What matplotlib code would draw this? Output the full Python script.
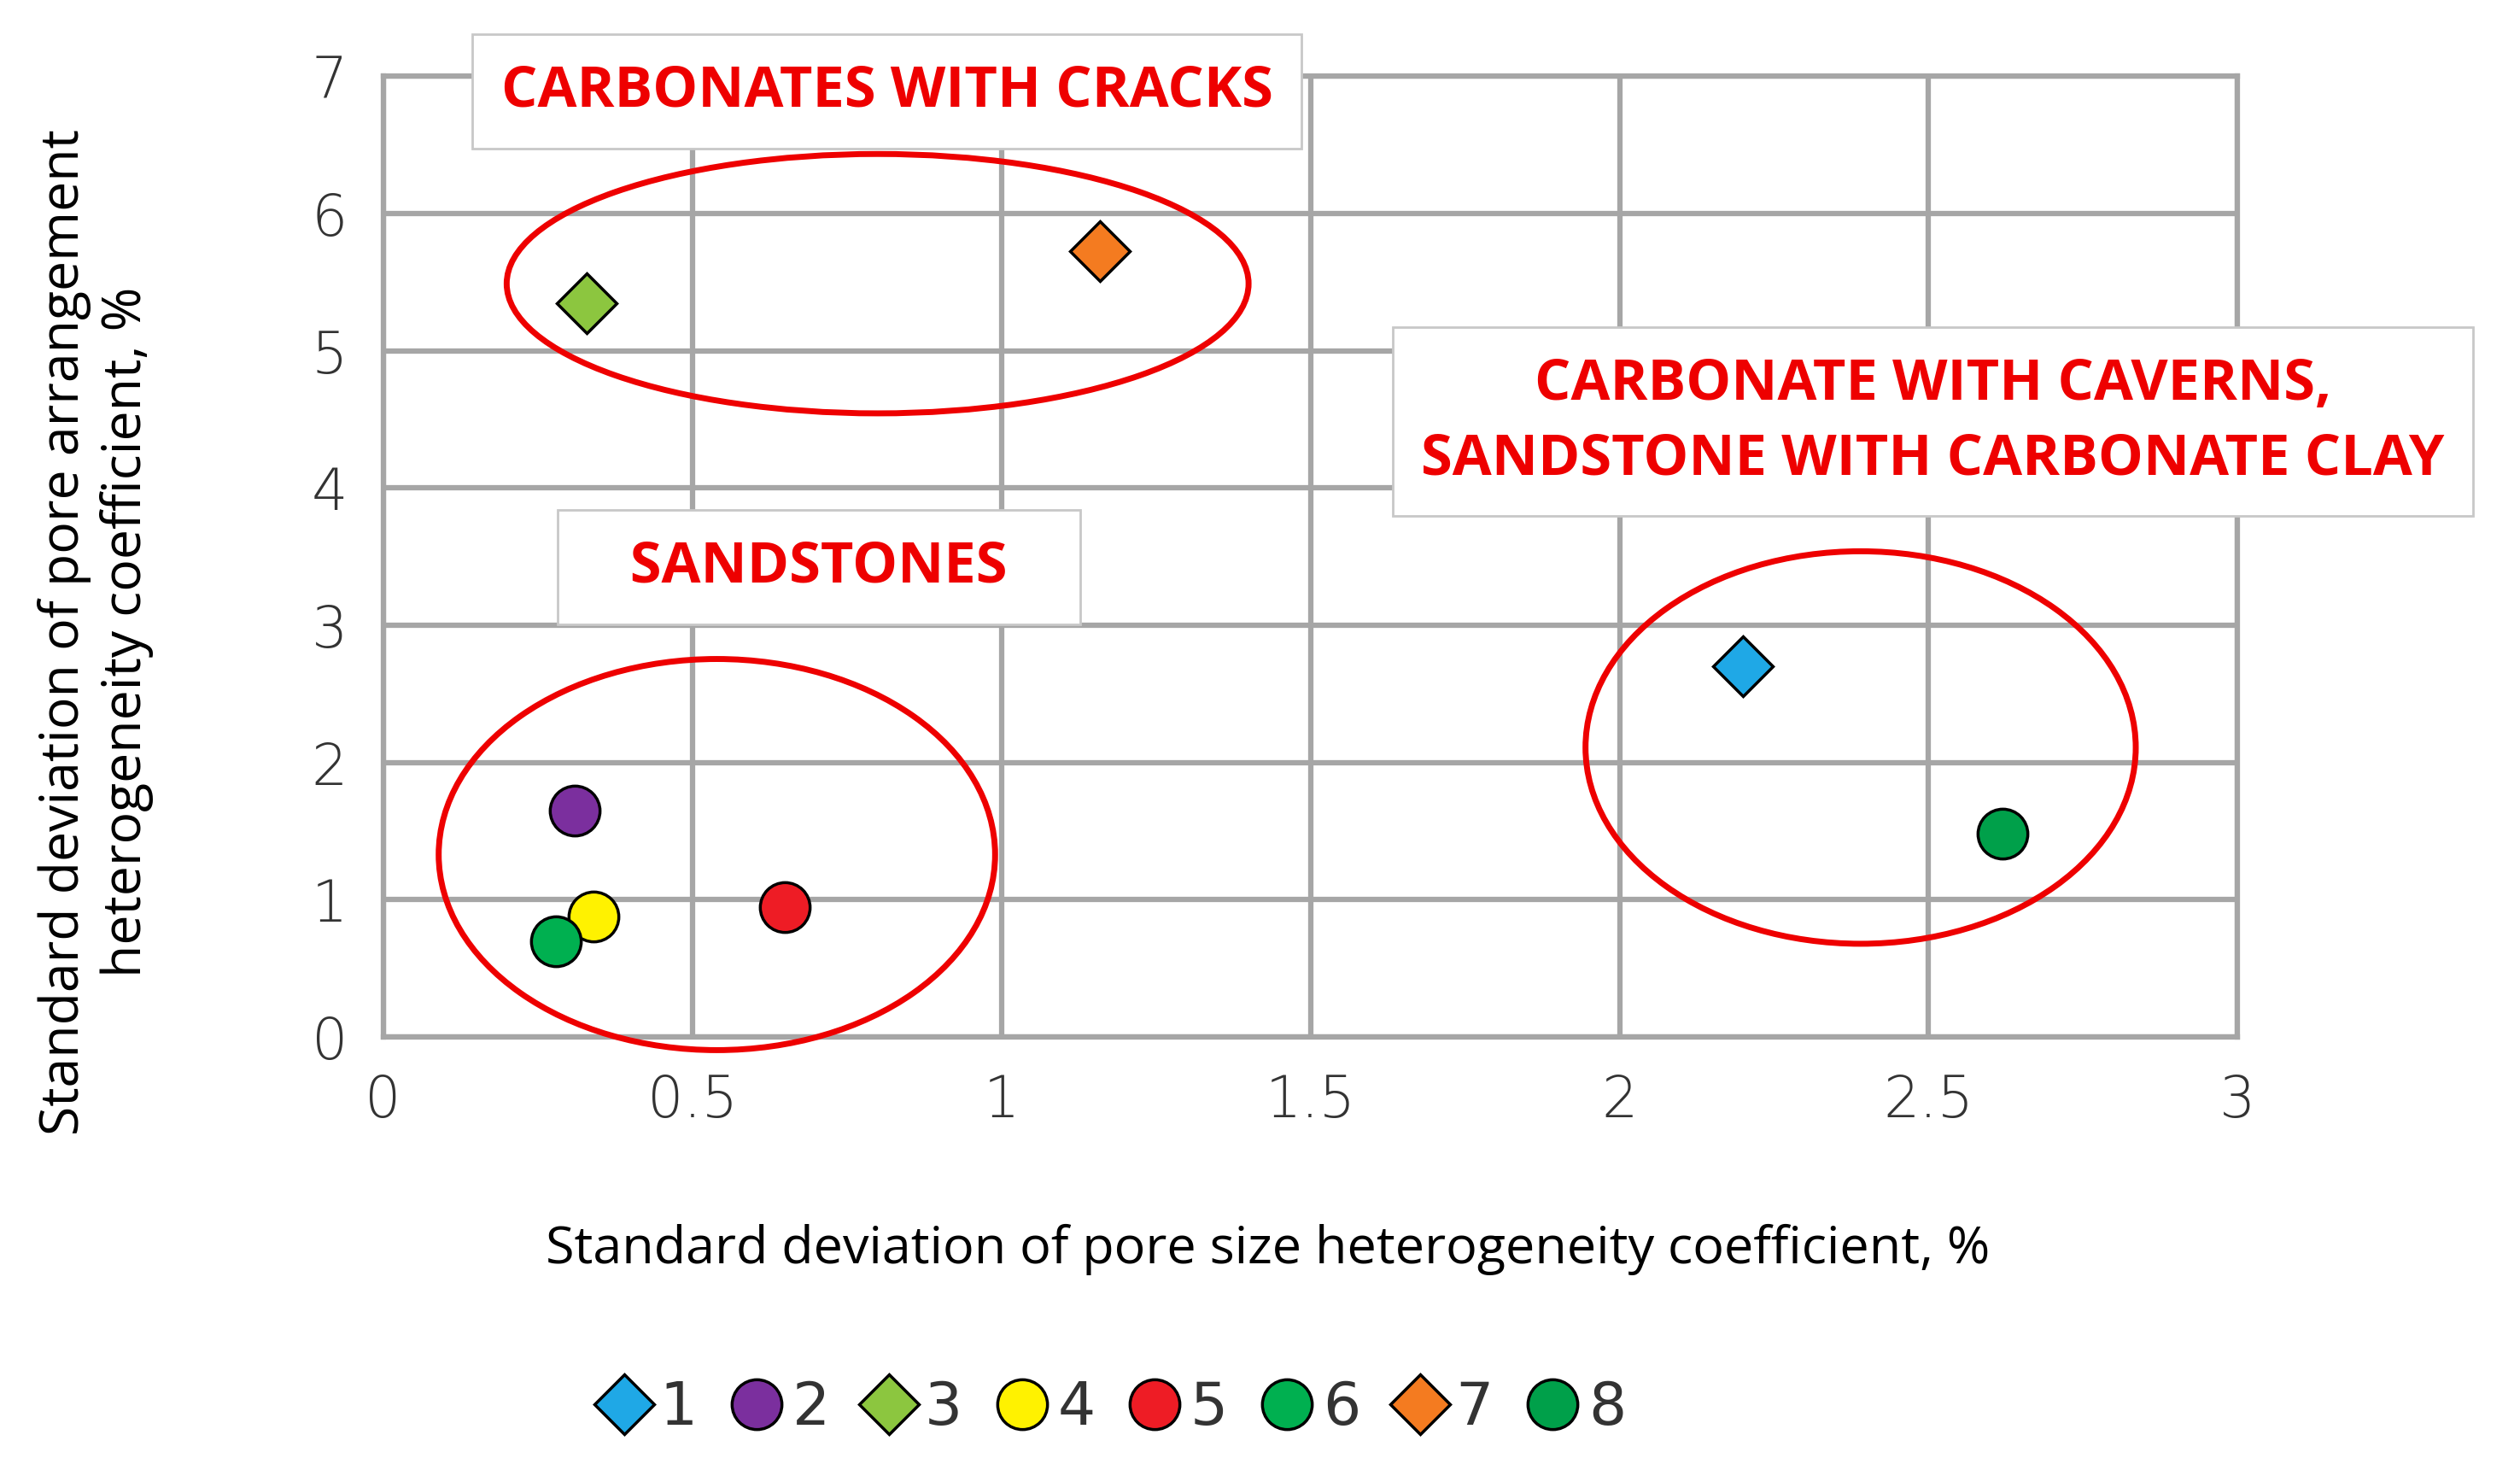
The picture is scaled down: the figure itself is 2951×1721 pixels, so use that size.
import matplotlib.pyplot as plt
from matplotlib.patches import Ellipse

# Данные
labels = ['1', '2', '3', '4', '5', '6', '7', '8']
x_vals = [2.2, 0.31, 0.33, 0.34, 0.65, 0.28, 1.16, 2.62]
y_vals = [2.7, 1.65, 5.35, 0.88, 0.95, 0.70, 5.73, 1.48]
markers = ['D', 'o', 'D', 'o', 'o', 'o', 'D', 'o']
colors = ['#1fa8e6', '#7b2f9e', '#8cc63f', '#fff200', '#ee1c25', '#00b050', '#f47b20', '#00a04a']

x_ticks = [0, 0.5, 1, 1.5, 2, 2.5, 3]
x_tick_labels = ['0', '0.5', '1', '1.5', '2', '2.5', '3']
y_ticks = [0, 1, 2, 3, 4, 5, 6, 7]

grid_c = '#a6a6a6'
fig = plt.figure(figsize=(29.51, 17.21), dpi=100)
ax = fig.add_axes([0.152, 0.2945, 0.736, 0.6535])
ax.set_xlim(0, 3)
ax.set_ylim(0, 7)
ax.set_xticks(x_ticks)
ax.set_xticklabels(x_tick_labels)
ax.set_yticks(y_ticks)
ax.grid(True, color=grid_c, lw=4.5)
ax.set_axisbelow(True)
for s in ax.spines.values():
    s.set_color(grid_c)
    s.set_linewidth(4.5)
ax.tick_params(length=0, pad=30, labelsize=48, labelcolor='#333333')
for t in ax.get_xticklabels() + ax.get_yticklabels():
    t.set_family(['Liberation Sans Narrow', 'DejaVu Sans'])
    t.set_fontweight('light')

handles = []
for i in range(len(labels)):
    h, = ax.plot(x_vals[i], y_vals[i], ls='none', marker=markers[i],
                 ms=42 if markers[i] == 'o' else 36, mfc=colors[i], mec='black', mew=2.5,
                 label=labels[i], zorder=5)
    handles.append(h)

# Эллипсы групп
for cx, cy, w, h in [(0.8, 5.49, 1.2, 1.89), (0.54, 1.33, 0.9, 2.85), (2.39, 2.11, 0.89, 2.86)]:
    ax.add_patch(Ellipse((cx, cy), w, h, fill=False, ec='#ee0000', lw=5, clip_on=False, zorder=4))

box = dict(boxstyle='square,pad=0.5', fc='white', ec='#c8c8c8', lw=2)
tk = dict(color='#ee0000', fontsize=48, fontweight='bold', family='Open Sans',
          ha='center', va='center', bbox=box, linespacing=1.4)
fig.text(0.352, 0.938, 'CARBONATES WITH CRACKS', **tk)
fig.text(0.325, 0.614, '   SANDSTONES   ', **tk)
fig.text(0.767, 0.713, 'CARBONATE WITH CAVERNS,\nSANDSTONE WITH CARBONATE CLAY', **tk)

fig.text(0.503, 0.15, 'Standard deviation of pore size heterogeneity coefficient, %',
         ha='center', va='center', fontsize=44, family='Open Sans')
fig.text(0.038, 0.57, 'Standard deviation of pore arrangement\nheterogeneity coefficient, %',
         ha='center', va='center', rotation=90, fontsize=45, family='Open Sans', linespacing=1.2)

leg = fig.legend(handles=handles, loc='center', bbox_to_anchor=(0.44, 0.042), ncol=8,
                 frameon=False, handletextpad=0.05, columnspacing=0.45, handlelength=1.1,
                 prop={'family': ['Liberation Sans Narrow', 'DejaVu Sans'], 'size': 50})
for t in leg.get_texts():
    t.set_color('#333333')

fig.savefig('out.png', dpi=100)
